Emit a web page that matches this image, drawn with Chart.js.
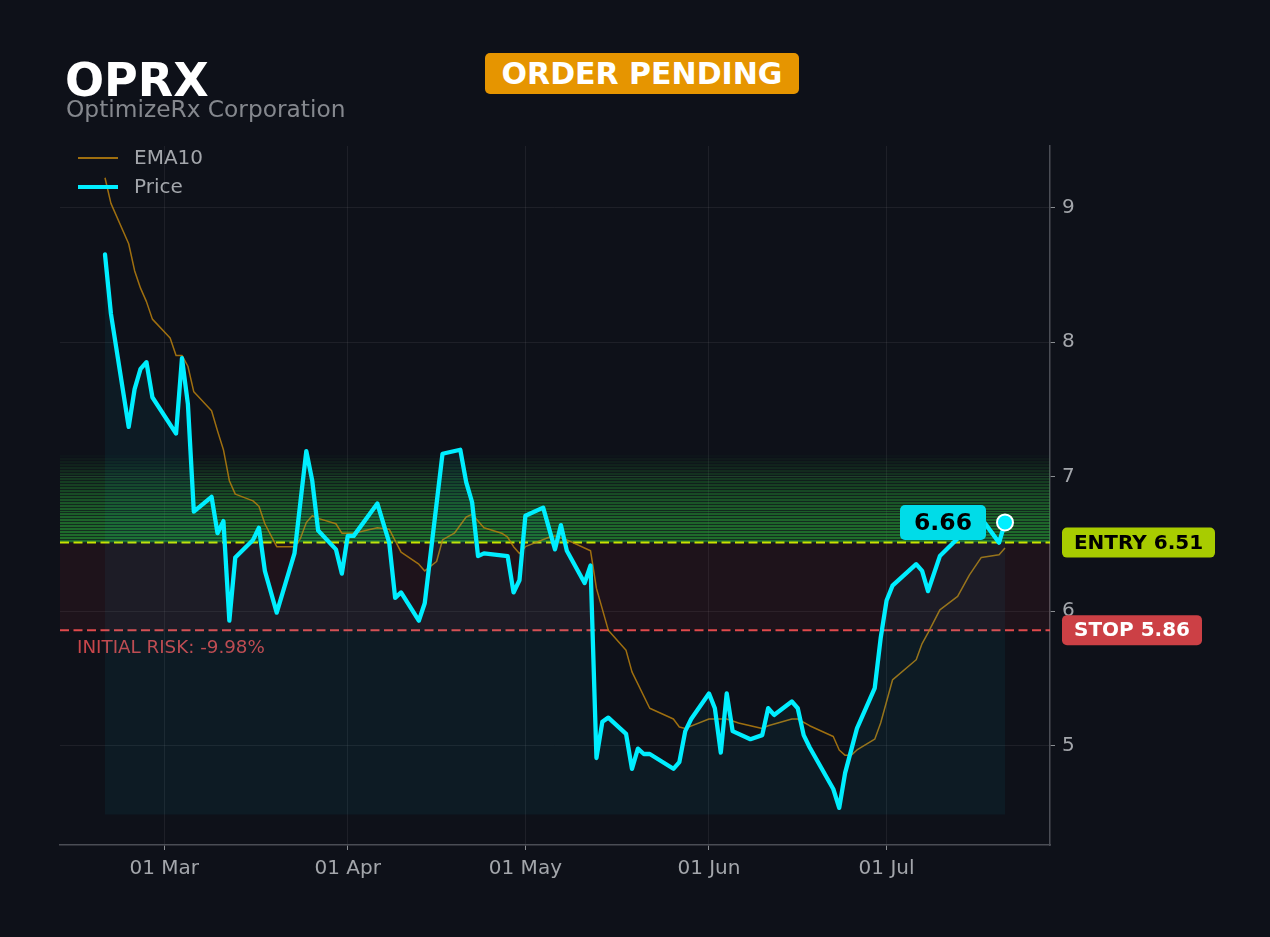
<!DOCTYPE html>
<html>
<head>
<meta charset="utf-8">
<script src="https://cdn.jsdelivr.net/npm/chart.js@4.4.1/dist/chart.umd.min.js"></script>
<style>
  html, body { margin: 0; padding: 0; background: #0e1119; }
  #wrap { position: relative; width: 1270px; height: 937px; overflow: hidden; }
  #chart { position: absolute; left: 0; top: 0; }
  .ticker { position: absolute; left: 65px; top: 57px; font: bold 46px/46px "DejaVu Sans"; color: #ffffff; }
  .company { position: absolute; left: 66px; top: 97px; font: 23.3px/23px "DejaVu Sans"; color: #85888e; }
  .badge { position: absolute; left: 485px; top: 53px; width: 314px; height: 41px; background: #e69500;
           border-radius: 5px; color: #fff; font: bold 30px "DejaVu Sans";
           display: flex; align-items: center; justify-content: center; }
</style>
</head>
<body>
<div id="wrap">
  <canvas id="chart" width="1270" height="937"></canvas>
  <div class="ticker">OPRX</div>
  <div class="company">OptimizeRx Corporation</div>
  <div class="badge">ORDER PENDING</div>
</div>
<script>
// days counted from 01 Mar
const priceDays = [-10,-9,-6,-5,-4,-3,-2,2,3,4,5,8,9,10,11,12,15,16,17,19,22,24,25,26,29,30,31,32,36,38,39,40,43,44,47,50,51,52,53,54,58,59,60,61,64,66,67,68,71,72,73,74,75,78,79,80,81,82,86,87,88,89,92,93,94,95,96,99,101,102,103,106,107,108,109,113,114,115,117,120,121,122,123,127,128,129,131,134,136,138,141,142];
const priceValues = [8.65,8.21,7.37,7.65,7.80,7.85,7.59,7.32,7.88,7.54,6.74,6.85,6.58,6.67,5.93,6.40,6.53,6.62,6.30,5.99,6.43,7.19,6.97,6.60,6.46,6.28,6.56,6.56,6.80,6.51,6.10,6.14,5.93,6.06,7.17,7.20,6.96,6.81,6.41,6.43,6.41,6.14,6.23,6.71,6.77,6.46,6.64,6.45,6.21,6.34,4.91,5.18,5.21,5.09,4.83,4.98,4.94,4.94,4.83,4.88,5.11,5.20,5.39,5.28,4.95,5.39,5.11,5.05,5.08,5.28,5.23,5.33,5.28,5.08,4.99,4.68,4.54,4.80,5.13,5.43,5.80,6.08,6.19,6.35,6.30,6.15,6.41,6.54,6.65,6.69,6.51,6.66];

const emaDays = [-10,-9,-6,-5,-4,-3,-2,1,2,3,4,5,8,9,10,11,12,15,16,17,19,22,23,24,25,26,29,30,32,36,38,40,43,44,46,47,49,51,52,54,57,58,59,60,61,65,66,68,72,73,75,78,79,82,86,87,88,92,95,97,99,101,102,106,107,109,113,114,115,116,117,120,121,123,127,128,129,131,134,136,138,141,142];
const emaValues = [9.22,9.03,8.73,8.53,8.40,8.30,8.17,8.03,7.90,7.90,7.82,7.63,7.49,7.34,7.20,6.97,6.87,6.82,6.78,6.65,6.48,6.48,6.54,6.66,6.71,6.69,6.65,6.58,6.58,6.62,6.61,6.44,6.35,6.30,6.37,6.53,6.58,6.70,6.72,6.62,6.58,6.55,6.48,6.43,6.48,6.55,6.56,6.53,6.45,6.17,5.86,5.71,5.55,5.28,5.20,5.14,5.13,5.20,5.20,5.17,5.15,5.13,5.15,5.20,5.20,5.15,5.07,4.97,4.93,4.93,4.97,5.05,5.17,5.49,5.64,5.76,5.84,6.01,6.11,6.27,6.40,6.42,6.47];

const monthTickDays = [0, 31, 61, 92, 122];
const monthTickLabels = ['01 Mar', '01 Apr', '01 May', '01 Jun', '01 Jul'];
const yTicks = [5, 6, 7, 8, 9];

const entryPrice = 6.51;
const stopPrice = 5.86;
const targetTop = 7.16;
const fillFloor = 4.49;
const riskText = 'INITIAL RISK: -9.98%';

const CYAN = '#00eeff';
const EMA_COL = 'rgba(184,128,14,0.85)';
const TXT = '#a3a6ab';

function roundRect(ctx, x, y, w, h, r) {
  ctx.beginPath();
  ctx.moveTo(x + r, y);
  ctx.arcTo(x + w, y, x + w, y + h, r);
  ctx.arcTo(x + w, y + h, x, y + h, r);
  ctx.arcTo(x, y + h, x, y, r);
  ctx.arcTo(x, y, x + w, y, r);
  ctx.closePath();
}

const zones = {
  id: 'zones',
  beforeDatasetsDraw(chart) {
    const { ctx, chartArea: a, scales: { y } } = chart;
    ctx.save();
    const yE = y.getPixelForValue(entryPrice);
    const yS = y.getPixelForValue(stopPrice);
    ctx.fillStyle = 'rgba(200,40,50,0.09)';
    ctx.fillRect(a.left, yE, a.width, yS - yE);

    // target zone, striped fade upward
    const n = 30;
    for (let i = 0; i < n; i++) {
      const p0 = Math.round(y.getPixelForValue(entryPrice + (targetTop - entryPrice) * i / n));
      const p1 = Math.round(y.getPixelForValue(entryPrice + (targetTop - entryPrice) * (i + 1) / n));
      const alpha = 0.62 * (1 - Math.pow(i / n, 1.6));
      ctx.fillStyle = `rgba(42,165,56,${alpha.toFixed(3)})`;
      ctx.fillRect(a.left, p1, a.width, Math.max(1, p0 - p1 - 1));
      ctx.fillStyle = `rgba(42,165,56,${(alpha * 0.35).toFixed(3)})`;
      ctx.fillRect(a.left, p0 - 1, a.width, 1);
    }

    ctx.lineWidth = 2;
    ctx.setLineDash([9, 4.5]);
    ctx.strokeStyle = '#c8e400';
    ctx.beginPath(); ctx.moveTo(a.left, yE); ctx.lineTo(a.right, yE); ctx.stroke();
    ctx.strokeStyle = '#e04a4c';
    ctx.beginPath(); ctx.moveTo(a.left, yS); ctx.lineTo(a.right, yS); ctx.stroke();
    ctx.setLineDash([]);

    ctx.fillStyle = '#c8464a';
    ctx.font = '18.3px "DejaVu Sans"';
    ctx.textBaseline = 'middle';
    ctx.textAlign = 'left';
    ctx.fillText(riskText, a.left + 17, yS + 18);
    ctx.restore();
  },
  afterDraw(chart) {
    const { ctx, chartArea: a, scales: { x, y } } = chart;
    ctx.save();
    // legend
    ctx.lineCap = 'butt';
    ctx.strokeStyle = EMA_COL; ctx.lineWidth = 2;
    ctx.beginPath(); ctx.moveTo(78, 158); ctx.lineTo(118, 158); ctx.stroke();
    ctx.strokeStyle = CYAN; ctx.lineWidth = 4;
    ctx.beginPath(); ctx.moveTo(78, 187); ctx.lineTo(118, 187); ctx.stroke();
    ctx.fillStyle = TXT;
    ctx.font = '20px "DejaVu Sans"';
    ctx.textBaseline = 'middle';
    ctx.fillText('EMA10', 134, 159);
    ctx.fillText('Price', 134, 188);

    // last price tag
    const last = priceValues.length - 1;
    const lx = x.getPixelForValue(priceDays[last]);
    const ly = y.getPixelForValue(priceValues[last]);
    ctx.fillStyle = '#00dce8';
    roundRect(ctx, lx - 19 - 86, ly - 17.5, 86, 35, 5); ctx.fill();
    ctx.fillStyle = '#000';
    ctx.font = 'bold 23.5px "DejaVu Sans"';
    ctx.textAlign = 'center';
    ctx.fillText(priceValues[last].toFixed(2), lx - 19 - 43, ly + 1);

    // entry / stop tags
    const yE = y.getPixelForValue(entryPrice);
    const yS = y.getPixelForValue(stopPrice);
    ctx.font = 'bold 20px "DejaVu Sans"';
    ctx.fillStyle = '#a8cc00';
    roundRect(ctx, a.right + 12, yE - 15, 153, 30, 5); ctx.fill();
    ctx.fillStyle = '#000';
    ctx.fillText('ENTRY ' + entryPrice.toFixed(2), a.right + 12 + 76.5, yE + 1);
    ctx.fillStyle = '#cc4045';
    roundRect(ctx, a.right + 12, yS - 15, 140, 30, 5); ctx.fill();
    ctx.fillStyle = '#fff';
    ctx.fillText('STOP ' + stopPrice.toFixed(2), a.right + 12 + 70, yS + 1);
    ctx.restore();
  }
};

const lastIdx = priceValues.length - 1;

new Chart(document.getElementById('chart'), {
  type: 'line',
  data: {
    datasets: [
      {
        label: 'Price',
        data: priceDays.map((d, i) => ({ x: d, y: priceValues[i] })),
        borderColor: CYAN,
        borderWidth: 4.3,
        borderJoinStyle: 'round',
        borderCapStyle: 'round',
        backgroundColor: 'rgba(0,220,255,0.05)',
        fill: { value: fillFloor },
        tension: 0,
        pointRadius: (c) => c.dataIndex === lastIdx ? 8 : 0,
        pointBackgroundColor: CYAN,
        pointBorderColor: '#ffffff',
        pointBorderWidth: 2,
        order: 0
      },
      {
        label: 'EMA10',
        data: emaDays.map((d, i) => ({ x: d, y: emaValues[i] })),
        borderColor: EMA_COL,
        borderWidth: 1.5,
        borderJoinStyle: 'round',
        pointRadius: 0,
        fill: false,
        tension: 0,
        order: 1
      }
    ]
  },
  options: {
    responsive: false,
    animation: false,
    layout: { padding: { left: 60, right: 160, top: 146, bottom: 42 } },
    plugins: { legend: { display: false }, tooltip: { enabled: false } },
    scales: {
      x: {
        type: 'linear',
        min: -17.6,
        max: 149.6,
        afterBuildTicks: (axis) => { axis.ticks = monthTickDays.map(v => ({ value: v })); },
        afterFit: (scale) => { scale.height = 50; },
        ticks: {
          callback: (v) => monthTickLabels[monthTickDays.indexOf(v)],
          color: TXT,
          font: { family: 'DejaVu Sans', size: 20 },
          padding: 7,
          maxRotation: 0
        },
        grid: { color: 'rgba(255,255,255,0.065)', tickColor: '#8a8d92', tickLength: 5 },
        border: { color: '#4a4d55', width: 1.5 }
      },
      y: {
        position: 'right',
        min: 4.264,
        max: 9.456,
        afterBuildTicks: (axis) => { axis.ticks = yTicks.map(v => ({ value: v })); },
        afterFit: (scale) => { scale.width = 60; },
        ticks: {
          color: TXT,
          font: { family: 'DejaVu Sans', size: 20 },
          padding: 7
        },
        grid: { color: 'rgba(255,255,255,0.065)', tickColor: '#8a8d92', tickLength: 5 },
        border: { color: '#4a4d55', width: 1.5 }
      }
    }
  },
  plugins: [zones]
});
</script>
</body>
</html>
